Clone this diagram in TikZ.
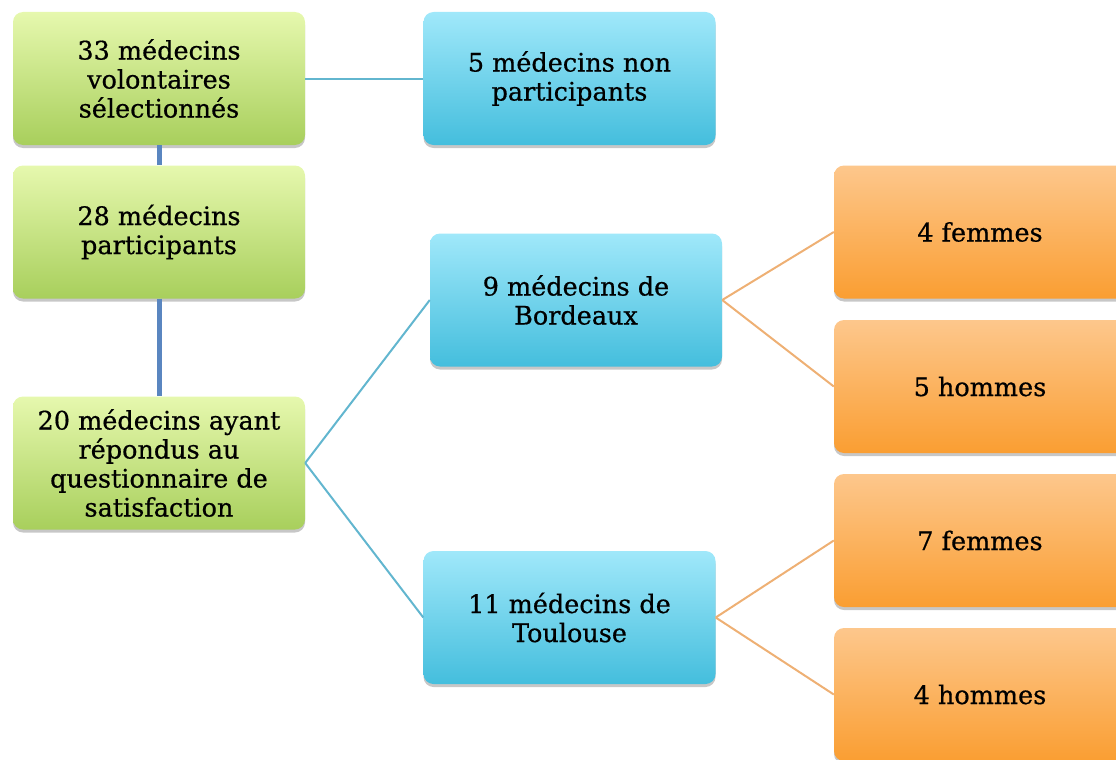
\documentclass[tikz,border=0pt]{standalone}
\usepackage{fontspec}
\setmainfont{DejaVu Serif}
\newfontfamily\boxfont{DejaVu Serif}[FakeBold=0.6]
\usetikzlibrary{shadows}
\definecolor{gtop}{HTML}{E6F8AE}
\definecolor{gbot}{HTML}{A8CF5C}
\definecolor{btop}{HTML}{A0E8FA}
\definecolor{bbot}{HTML}{44BEDD}
\definecolor{otop}{HTML}{FDC78C}
\definecolor{obot}{HTML}{FA9E32}
\definecolor{vline}{HTML}{5A86C0}
\definecolor{bline}{HTML}{62B6CF}
\definecolor{oline}{HTML}{EEB074}
\tikzset{
  box/.style={rectangle, rounded corners=10pt, minimum width=292pt, minimum height=133pt,
    align=center, inner sep=4pt, font=\boxfont\fontsize{25.5}{29}\selectfont,
    drop shadow={shadow xshift=0pt, shadow yshift=-3pt, opacity=0.22, fill=black}},
  gbox/.style={box, top color=gtop, bottom color=gbot},
  bbox/.style={box, top color=btop, bottom color=bbot},
  obox/.style={box, top color=otop, bottom color=obot},
  vlink/.style={draw=vline, line width=5pt},
  blink/.style={draw=bline, line width=2pt},
  olink/.style={draw=oline, line width=2pt}
}
\begin{document}
\begin{tikzpicture}[x=1pt,y=-1pt]
\useasboundingbox (0,0) rectangle (1116,760);
\node[gbox] (g1) at (159,78.5) {33 médecins\\volontaires\\sélectionnés};
\node[gbox] (g2) at (159,232) {28 médecins\\participants};
\node[gbox] (g3) at (159,463) {20 médecins ayant\\répondus au\\questionnaire de\\satisfaction};
\node[bbox] (b1) at (569.5,78.5) {5 médecins non\\participants};
\node[bbox] (b2) at (576,300) {9 médecins de\\Bordeaux};
\node[bbox] (b3) at (569.5,617.5) {11 médecins de\\Toulouse};
\node[obox] (o1) at (980,232) {4 femmes};
\node[obox] (o2) at (980,386.5) {5 hommes};
\node[obox] (o3) at (980,540.5) {7 femmes};
\node[obox] (o4) at (980,694.5) {4 hommes};
\draw[vlink] (g1.south) -- (g2.north);
\draw[vlink] (g2.south) -- (g3.north);
\draw[blink] (g1.east) -- (b1.west);
\draw[blink] (g3.east) -- (b2.west);
\draw[blink] (g3.east) -- (b3.west);
\draw[olink] (b2.east) -- (o1.west);
\draw[olink] (b2.east) -- (o2.west);
\draw[olink] (b3.east) -- (o3.west);
\draw[olink] (b3.east) -- (o4.west);
\end{tikzpicture}
\end{document}
